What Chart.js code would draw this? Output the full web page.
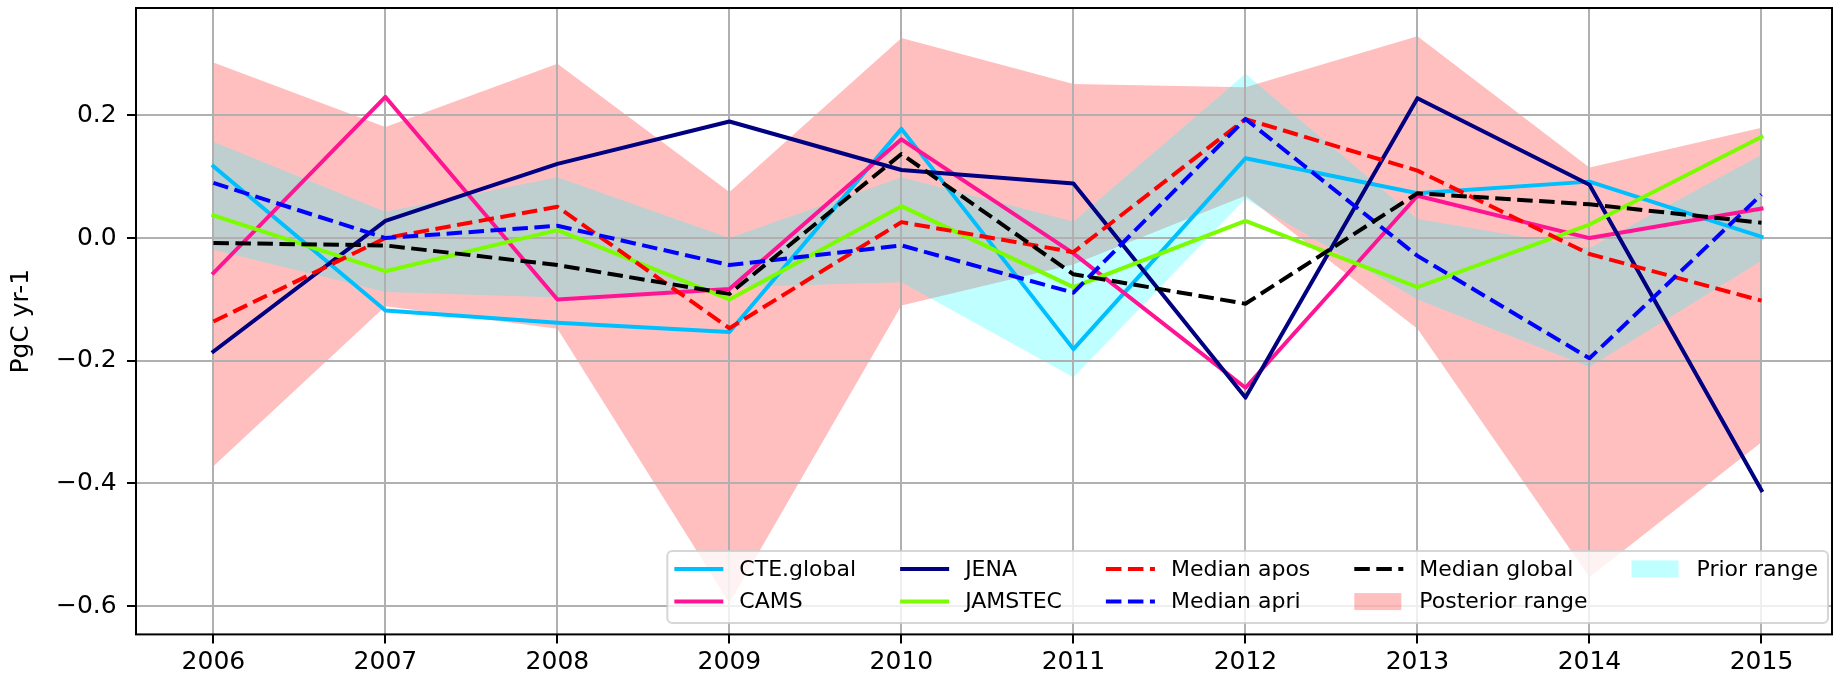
<!DOCTYPE html>
<html>
<head>
<meta charset="utf-8">
<script src="https://cdn.jsdelivr.net/npm/chart.js@4.4.0/dist/chart.umd.min.js"></script>
<style>
    html, body { margin: 0; padding: 0; background: #ffffff; }
</style>
</head>
<body>
<canvas id="grafico_fluxos" width="1834" height="679"></canvas>
<script>
// dados (PgC yr-1)
const anos = [2006, 2007, 2008, 2009, 2010, 2011, 2012, 2013, 2014, 2015];
const cteGlobal = [0.117, -0.118, -0.138, -0.153, 0.178, -0.181, 0.130, 0.073, 0.092, 0.002];
const cams = [-0.057, 0.230, -0.100, -0.083, 0.161, -0.025, -0.244, 0.069, 0.000, 0.048];
const jena = [-0.185, 0.028, 0.121, 0.190, 0.111, 0.089, -0.260, 0.228, 0.087, -0.411];
const jamstec = [0.037, -0.054, 0.013, -0.100, 0.052, -0.080, 0.028, -0.080, 0.022, 0.165];
const medianApos = [-0.136, 0.000, 0.051, -0.147, 0.026, -0.023, 0.194, 0.110, -0.026, -0.102];
const medianApri = [0.090, 0.000, 0.020, -0.044, -0.012, -0.089, 0.194, -0.029, -0.196, 0.071];
const medianGlobal = [-0.008, -0.012, -0.044, -0.091, 0.137, -0.059, -0.107, 0.073, 0.055, 0.025];
const posteriorMax = [0.286, 0.181, 0.284, 0.075, 0.326, 0.251, 0.246, 0.329, 0.115, 0.180];
const posteriorMin = [-0.372, -0.111, -0.148, -0.595, -0.110, -0.043, 0.069, -0.148, -0.553, -0.333];
const priorMax = [0.157, 0.043, 0.099, 0.000, 0.099, 0.027, 0.268, 0.031, -0.016, 0.136];
const priorMin = [-0.019, -0.088, -0.097, -0.080, -0.072, -0.227, 0.064, -0.100, -0.210, -0.037];
const yTicks = [-0.6, -0.4, -0.2, 0.0, 0.2];

const fonte = '"DejaVu Sans", "Liberation Sans", sans-serif';
const corGrade = '#b0b0b0';
const traco = [15.5, 6.5];

function pontos(valores) {
    return anos.map((a, i) => ({ x: a, y: valores[i] }));
}

function linha(label, valores, cor, tracejado, ordem) {
    return {
        label: label,
        data: pontos(valores),
        borderColor: cor,
        backgroundColor: cor,
        borderWidth: 4,
        borderDash: tracejado ? traco : [],
        borderJoinStyle: 'round',
        borderCapStyle: tracejado ? 'butt' : 'square',
        pointRadius: 0,
        pointHoverRadius: 0,
        tension: 0,
        fill: false,
        order: ordem
    };
}

function faixa(label, valores, cor, preenche, ordem) {
    return {
        label: label,
        data: pontos(valores),
        borderColor: 'rgba(0,0,0,0)',
        backgroundColor: cor,
        borderWidth: 0,
        pointRadius: 0,
        pointHoverRadius: 0,
        tension: 0,
        fill: preenche ? '-1' : false,
        order: ordem
    };
}

const datasets = [
    linha('CTE.global', cteGlobal, '#00bfff', false, 7),
    linha('CAMS', cams, '#ff1493', false, 6),
    linha('JENA', jena, '#000080', false, 5),
    linha('JAMSTEC', jamstec, '#7cfc00', false, 4),
    linha('Median apos', medianApos, '#ff0000', true, 3),
    linha('Median apri', medianApri, '#0000ff', true, 2),
    linha('Median global', medianGlobal, '#000000', true, 1),
    faixa('posterior_min', posteriorMin, 'rgba(255,0,0,0.25)', false, 9),
    faixa('Posterior range', posteriorMax, 'rgba(255,0,0,0.25)', true, 9),
    faixa('prior_min', priorMin, 'rgba(0,255,255,0.25)', false, 8),
    faixa('Prior range', priorMax, 'rgba(0,255,255,0.25)', true, 8)
];

// ordem da legenda (por colunas, 2 linhas)
const legenda = [
    { texto: 'CTE.global', cor: '#00bfff' },
    { texto: 'CAMS', cor: '#ff1493' },
    { texto: 'JENA', cor: '#000080' },
    { texto: 'JAMSTEC', cor: '#7cfc00' },
    { texto: 'Median apos', cor: '#ff0000', tracejado: true },
    { texto: 'Median apri', cor: '#0000ff', tracejado: true },
    { texto: 'Median global', cor: '#000000', tracejado: true },
    { texto: 'Posterior range', cor: 'rgba(255,0,0,0.25)', area: true },
    { texto: 'Prior range', cor: 'rgba(0,255,255,0.25)', area: true }
];

// grade por cima das areas, por baixo das linhas
const gradeSobre = {
    id: 'gradeSobre',
    beforeDatasetsDraw(chart) {
        const ctx = chart.ctx;
        const a = chart.chartArea;
        ctx.save();
        ctx.strokeStyle = corGrade;
        ctx.lineWidth = 2;
        chart.scales.x.ticks.forEach(t => {
            const px = Math.round(chart.scales.x.getPixelForValue(t.value));
            ctx.beginPath();
            ctx.moveTo(px, a.top);
            ctx.lineTo(px, a.bottom);
            ctx.stroke();
        });
        chart.scales.y.ticks.forEach(t => {
            const py = Math.round(chart.scales.y.getPixelForValue(t.value));
            ctx.beginPath();
            ctx.moveTo(a.left, py);
            ctx.lineTo(a.right, py);
            ctx.stroke();
        });
        ctx.restore();
    },
    afterDatasetsDraw(chart) {
        const ctx = chart.ctx;
        const a = chart.chartArea;
        ctx.save();
        ctx.strokeStyle = '#000000';
        ctx.lineWidth = 2;
        ctx.strokeRect(a.left, a.top, a.right - a.left, a.bottom - a.top);
        ctx.restore();
    }
};

const legendaPlugin = {
    id: 'legendaPlugin',
    afterDraw(chart) {
        const ctx = chart.ctx;
        const a = chart.chartArea;
        ctx.save();
        ctx.font = '22px ' + fonte;
        const handle = 49, textPad = 16, colSpace = 44;
        const colunas = [];
        for (let i = 0; i < legenda.length; i += 2) colunas.push(legenda.slice(i, i + 2));
        const larguras = colunas.map(c => handle + textPad + Math.max(...c.map(it => ctx.measureText(it.texto).width)));
        const interno = larguras.reduce((s, w) => s + w, 0) + colSpace * (colunas.length - 1);
        const boxW = interno + 7 + 10;
        const boxH = 72;
        const boxR = a.right - 4;
        const boxB = a.bottom - 11.5;
        const boxL = boxR - boxW;
        const boxT = boxB - boxH;

        ctx.beginPath();
        ctx.roundRect(boxL, boxT, boxW, boxH, 5);
        ctx.fillStyle = 'rgba(255,255,255,0.8)';
        ctx.fill();
        ctx.lineWidth = 2;
        ctx.strokeStyle = 'rgba(204,204,204,0.8)';
        ctx.stroke();

        let x = boxL + 7;
        colunas.forEach((col, ci) => {
            col.forEach((it, ri) => {
                const y = boxT + 18 + ri * 32.7;
                if (it.area) {
                    ctx.fillStyle = it.cor;
                    ctx.fillRect(x, y - 8.5, handle - 2, 17);
                } else {
                    ctx.beginPath();
                    ctx.strokeStyle = it.cor;
                    ctx.lineWidth = 4;
                    ctx.setLineDash(it.tracejado ? traco : []);
                    ctx.lineCap = 'butt';
                    ctx.moveTo(x, y);
                    ctx.lineTo(x + handle, y);
                    ctx.stroke();
                    ctx.setLineDash([]);
                }
                ctx.fillStyle = '#000000';
                ctx.textAlign = 'left';
                ctx.textBaseline = 'middle';
                ctx.fillText(it.texto, x + handle + textPad, y + 1);
            });
            x += larguras[ci] + colSpace;
        });
        ctx.restore();
    }
};

const config_fluxos = {
    type: 'line',
    data: { datasets: datasets },
    options: {
        responsive: false,
        animation: false,
        events: [],
        layout: {
            autoPadding: false,
            padding: { left: 0, top: 8, right: 2, bottom: 0 }
        },
        plugins: {
            legend: { display: false },
            tooltip: { enabled: false },
            filler: { drawTime: 'beforeDatasetsDraw' }
        },
        scales: {
            x: {
                type: 'linear',
                min: 2005.55,
                max: 2015.41,
                afterBuildTicks: s => { s.ticks = anos.map(v => ({ value: v })); },
                afterFit: s => { s.height = 44.6; s.paddingLeft = 0; s.paddingRight = 0; },
                grid: { color: corGrade, lineWidth: 2, tickLength: 9, tickColor: '#000000', tickWidth: 2 },
                border: { display: false },
                ticks: {
                    padding: 4.5,
                    maxRotation: 0,
                    autoSkip: false,
                    color: '#000000',
                    font: { family: fonte, size: 25 },
                    callback: v => String(v)
                }
            },
            y: {
                type: 'linear',
                min: -0.646,
                max: 0.375,
                afterBuildTicks: s => { s.ticks = yTicks.map(v => ({ value: v })); },
                afterFit: s => { s.width = 136; s.paddingTop = 0; s.paddingBottom = 0; },
                grid: { color: corGrade, lineWidth: 2, tickLength: 9, tickColor: '#000000', tickWidth: 2 },
                border: { display: false },
                ticks: {
                    padding: 10.3,
                    autoSkip: false,
                    color: '#000000',
                    font: { family: fonte, size: 25 },
                    callback: v => v.toFixed(1).replace('-', '\u2212')
                },
                title: {
                    display: true,
                    text: 'PgC yr-1',
                    color: '#000000',
                    font: { family: fonte, size: 25 },
                    padding: { top: 6.7, bottom: 0 }
                }
            }
        }
    },
    plugins: [gradeSobre, legendaPlugin]
};

new Chart(document.querySelector('#grafico_fluxos'), config_fluxos);
</script>
</body>
</html>
